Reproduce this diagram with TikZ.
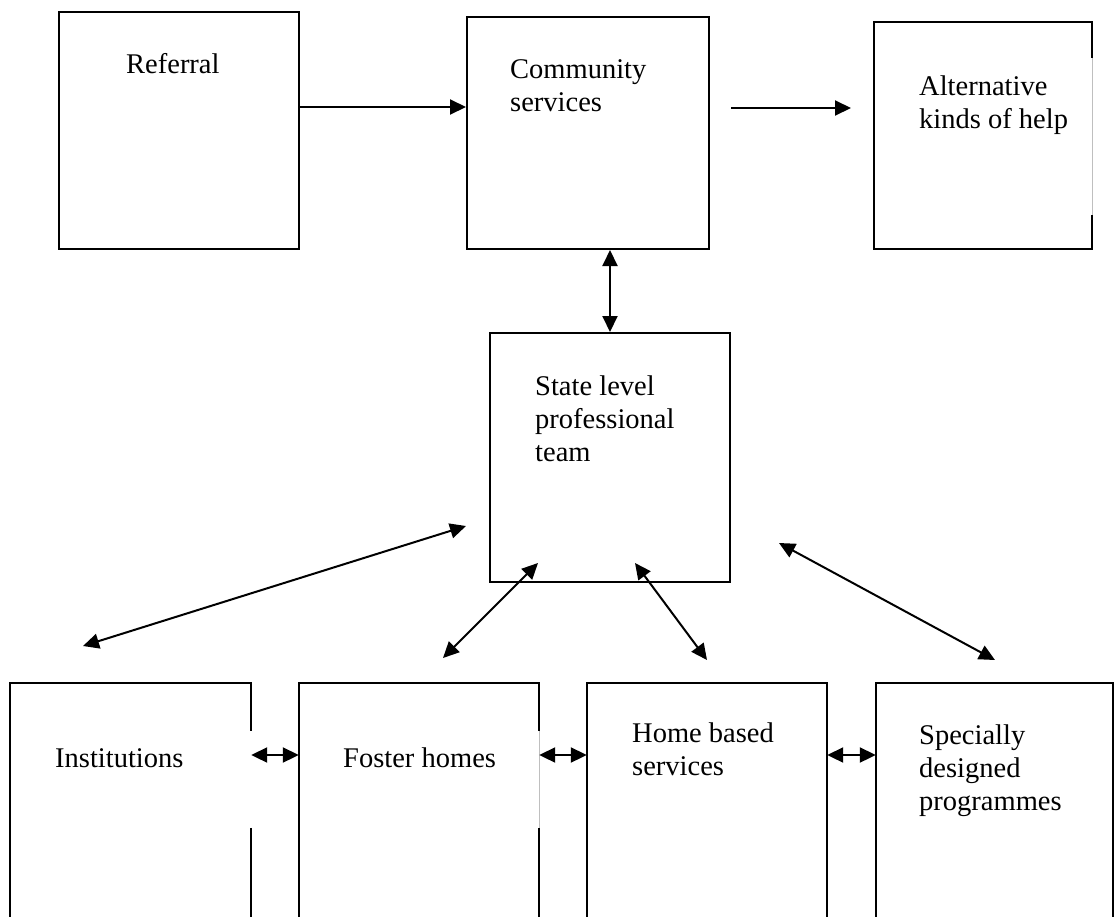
\documentclass[tikz,border=0pt]{standalone}
\usepackage{fontspec}
\setmainfont{Liberation Serif}
\usetikzlibrary{arrows.meta}
\begin{document}
\begin{tikzpicture}[x=1pt,y=-1pt,
  edge/.style={line width=2pt, line cap=butt, line join=miter},
  boxdrawn/.style={draw, line width=2pt, inner sep=0pt},
  boxplain/.style={draw=none, inner sep=0pt},
  gapline/.style={draw=black!25, line width=0.8pt},
  arr/.style={line width=2pt, -{Triangle[length=16pt,width=15pt]}},
  darr/.style={line width=2pt, {Triangle[length=16pt,width=15pt]}-{Triangle[length=16pt,width=15pt]}},
  lbl/.style={anchor=base west, inner sep=0pt, align=left, font=\fontsize{28.5}{33}\selectfont}
]
\useasboundingbox (0,0) rectangle (1114,916);

% top row
\node[boxdrawn, minimum width=240pt, minimum height=237pt] (ref) at (179,130.5) {};
\node[boxdrawn, minimum width=242pt, minimum height=232pt] (comm) at (588,133) {};
\node[boxplain, minimum width=218pt, minimum height=227pt] (alt) at (983,135.5) {};
\draw[edge] ([yshift=-36pt]alt.north east) -- (alt.north east) -- (alt.north west)
  -- (alt.south west) -- (alt.south east) -- ([yshift=34pt]alt.south east);
\draw[gapline] ([yshift=-36pt]alt.north east) -- ([yshift=34pt]alt.south east);

% middle
\node[boxdrawn, minimum width=240pt, minimum height=249pt] (state) at (610,457.5) {};

% bottom row (open at the bottom)
\node[boxplain, minimum width=241pt, minimum height=234pt] (inst) at (130.5,800) {};
\node[boxplain, minimum width=240pt, minimum height=234pt] (fost) at (419,800) {};
\node[boxplain, minimum width=240pt, minimum height=234pt] (home) at (707,800) {};
\node[boxplain, minimum width=237pt, minimum height=234pt] (spec) at (994.5,800) {};

\draw[edge] (inst.south west) -- (inst.north west) -- (inst.north east) -- ([yshift=-48pt]inst.north east);
\draw[edge] ([yshift=-145pt]inst.north east) -- (inst.south east);

\draw[edge] (fost.south west) -- (fost.north west) -- (fost.north east) -- ([yshift=-48pt]fost.north east);
\draw[edge] ([yshift=-145pt]fost.north east) -- (fost.south east);
\draw[gapline] ([yshift=-48pt]fost.north east) -- ([yshift=-145pt]fost.north east);

\draw[edge] (home.south west) -- (home.north west) -- (home.north east) -- (home.south east);
\draw[edge] (spec.south west) -- (spec.north west) -- (spec.north east) -- (spec.south east);

% labels (anchor = baseline of the last line)
\node[lbl] (tref) at (126,73) {Referral};
\node[lbl] (tcomm) at (510,111) {Community\\services};
\node[lbl] (talt) at (919,128) {Alternative\\kinds of help};
\node[lbl] (tstate) at (535,461) {State level\\professional\\team};
\node[lbl] (tinst) at (55,767) {Institutions};
\node[lbl] (tfost) at (343,767) {Foster homes};
\node[lbl] (thome) at (632,775) {Home based\\services};
\node[lbl] (tspec) at (919,810) {Specially\\designed\\programmes};

% connectors
\draw[arr] ([yshift=23.5pt]ref.east) -- ([yshift=26pt]comm.west);
\coordinate (ca) at (731,108);
\coordinate (cb) at (851,108);
\draw[arr] (ca) -- (cb);
\draw[darr] (comm.south -| state.north) -- (state.north);

\coordinate (i1) at (466,526);
\coordinate (i2) at (83,646);
\draw[darr] (i1) -- (i2);
\coordinate (f1) at (538,563);
\coordinate (f2) at (443,658);
\draw[darr] (f1) -- (f2);
\coordinate (h1) at (635,563);
\coordinate (h2) at (707,660);
\draw[darr] (h1) -- (h2);
\coordinate (s1) at (779,543);
\coordinate (s2) at (995,660);
\draw[darr] (s1) -- (s2);

\draw[darr] ([yshift=45pt]inst.east) -- ([yshift=45pt]fost.west);
\draw[darr] ([yshift=45pt]fost.east) -- ([yshift=45pt]home.west);
\draw[darr] ([yshift=45pt]home.east) -- ([yshift=45pt]spec.west);
\end{tikzpicture}
\end{document}
